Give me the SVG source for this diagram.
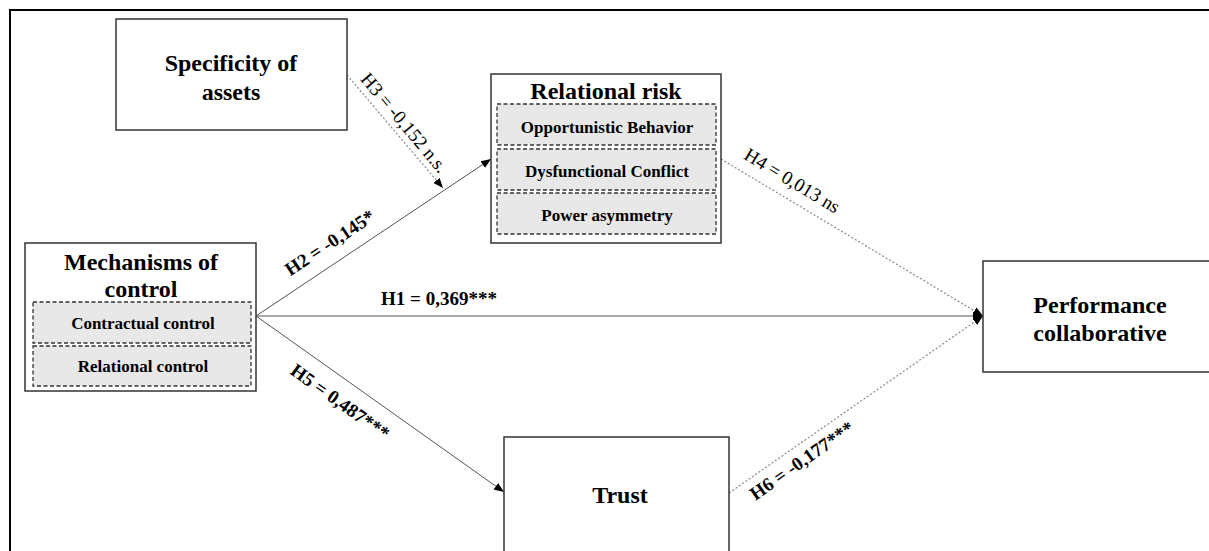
<svg xmlns="http://www.w3.org/2000/svg" width="1209" height="551" viewBox="0 0 1209 551">
<style>
.box{fill:#fff;stroke:#333;stroke-width:1.5}
.sub{fill:#e8e8e8;stroke:#333;stroke-width:1.3;stroke-dasharray:4,2.5}
.t{font-family:"Liberation Serif","Times New Roman",serif;font-weight:bold;fill:#000;text-anchor:middle}
.title{font-size:24px}
.st{font-size:17px}
.lbl{font-family:"Liberation Serif","Times New Roman",serif;font-size:19px;fill:#000;text-anchor:middle}
.b{font-weight:bold}
.solid{stroke:#555;stroke-width:1;fill:none}
.dot{stroke:#888;stroke-width:1.2;stroke-dasharray:2,2;fill:none}
</style>
<defs>
<marker id="ah" viewBox="0 0 10 10" refX="10" refY="5" markerWidth="10" markerHeight="10" markerUnits="userSpaceOnUse" orient="auto">
<path d="M0,1 L10,5 L0,9 Z" fill="#000"/>
</marker>
</defs>
<rect width="1209" height="551" fill="#fff"/>
<path d="M10,551 V10 H1209" fill="none" stroke="#000" stroke-width="2"/>

<g id="connectors">
<line class="dot" x1="347" y1="75" x2="443" y2="188" marker-end="url(#ah)"/>
<line class="solid" x1="256" y1="316" x2="491" y2="159" marker-end="url(#ah)"/>
<line class="solid" x1="256" y1="316" x2="983" y2="316" marker-end="url(#ah)"/>
<line class="solid" x1="256" y1="316" x2="504" y2="492" marker-end="url(#ah)"/>
<line class="dot" x1="721" y1="159" x2="983" y2="316" marker-end="url(#ah)"/>
<line class="dot" x1="729" y1="493" x2="983" y2="316" marker-end="url(#ah)"/>
<text class="lbl" transform="translate(404,123) rotate(50)" dy="6">H3 = -0,152 n.s.</text>
<text class="lbl" transform="translate(792,181) rotate(31)" dy="6">H4 = 0,013 ns</text>
<text class="lbl b" transform="translate(330,243) rotate(-33.6)" dy="6">H2 = -0,145*</text>
<text class="lbl b" x="439" y="305">H1 = 0,369***</text>
<text class="lbl b" transform="translate(340,402) rotate(35.4)" dy="6">H5 = 0,487***</text>
<text class="lbl b" transform="translate(802,461) rotate(-35)" dy="6">H6 = -0,177***</text>
</g>

<g id="specificity">
<rect class="box" x="116" y="19" width="231" height="111"/>
<text class="t title" x="231" y="71">Specificity of</text>
<text class="t title" x="231" y="100">assets</text>
</g>

<g id="relational-risk">
<rect class="box" x="491" y="74" width="230" height="169"/>
<text class="t title" x="606" y="99">Relational risk</text>
<rect class="sub" x="497" y="104" width="219" height="41"/>
<text class="t st" x="607" y="133">Opportunistic Behavior</text>
<rect class="sub" x="497" y="149" width="219" height="41"/>
<text class="t st" x="607" y="177">Dysfunctional Conflict</text>
<rect class="sub" x="497" y="193" width="219" height="41"/>
<text class="t st" x="607" y="221">Power asymmetry</text>
</g>

<g id="mechanisms">
<rect class="box" x="25" y="243" width="231" height="148"/>
<text class="t title" x="141" y="270">Mechanisms of</text>
<text class="t title" x="141" y="297">control</text>
<rect class="sub" x="33" y="302" width="218" height="41"/>
<text class="t st" x="143" y="329">Contractual control</text>
<rect class="sub" x="33" y="346" width="218" height="40"/>
<text class="t st" x="143" y="372">Relational control</text>
</g>

<g id="performance">
<rect class="box" x="983" y="261" width="240" height="111"/>
<text class="t title" x="1100" y="313">Performance</text>
<text class="t title" x="1100" y="341">collaborative</text>
</g>

<g id="trust">
<rect class="box" x="504" y="437" width="225" height="120"/>
<text class="t title" x="620" y="503">Trust</text>
</g>
</svg>
